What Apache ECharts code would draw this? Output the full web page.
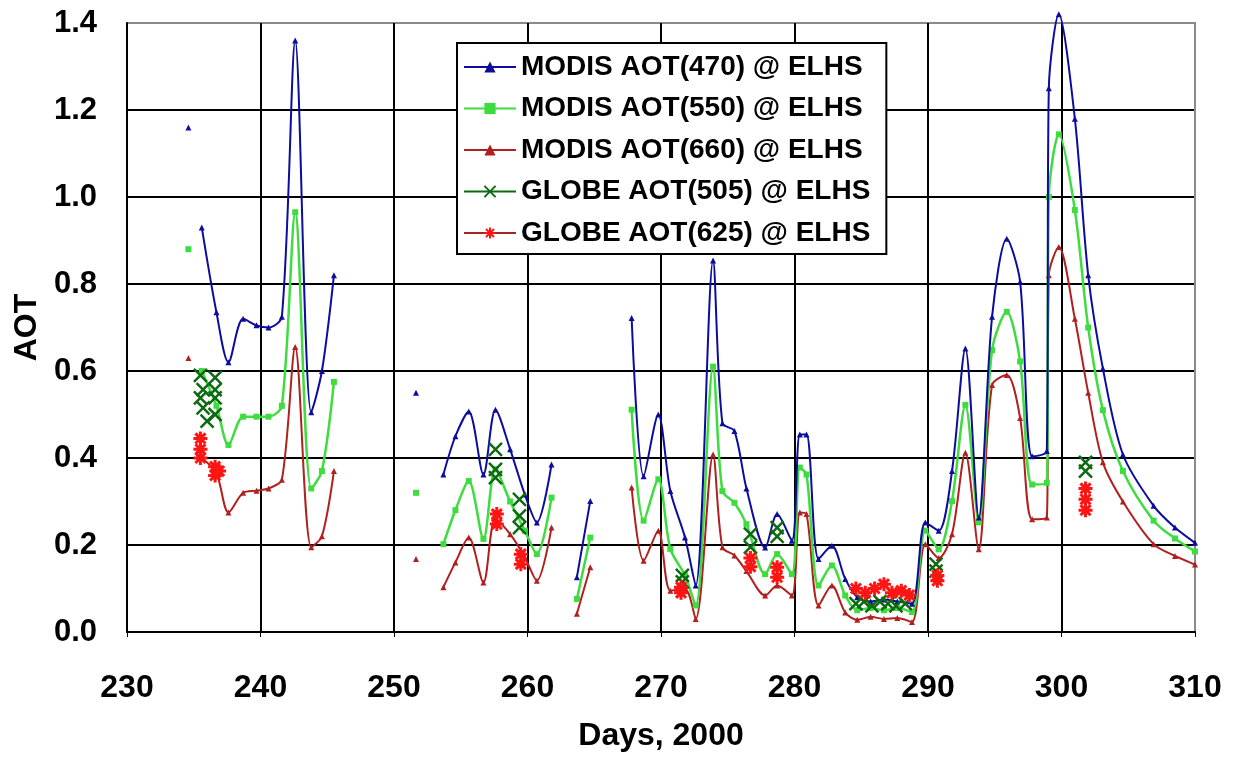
<!DOCTYPE html>
<html>
<head>
<meta charset="utf-8">
<script src="https://cdn.jsdelivr.net/npm/echarts@6/dist/echarts.min.js"></script>
<style>
html,body{margin:0;padding:0;background:#fff;}
#chart{width:1236px;height:757px;}
</style>
</head>
<body>
<div id="chart"></div>
<script>
// ---- Data ----
const xTicks = [230, 240, 250, 260, 270, 280, 290, 300, 310];
const yTicks = [0.0, 0.2, 0.4, 0.6, 0.8, 1.0, 1.2, 1.4];

const seriesNames = [
  'MODIS AOT(470) @ ELHS',
  'MODIS AOT(550) @ ELHS',
  'MODIS AOT(660) @ ELHS',
  'GLOBE AOT(505) @ ELHS',
  'GLOBE AOT(625) @ ELHS'
];

// MODIS overpass days (null values break the line)
const modisDays = [
  234.6, 235.0,
  235.6, 236.7, 237.6, 238.7, 239.7, 240.6, 241.6, 242.6, 243.8, 244.6, 245.5, 248.0,
  251.65, 252.5,
  253.7, 254.6, 255.6, 256.7, 257.6, 258.7, 259.8, 260.7, 261.8, 262.7,
  263.7, 264.7, 266.0,
  267.8, 268.7, 269.8, 270.7, 271.8, 272.6, 273.9, 274.6, 275.5, 276.4,
  277.8, 278.7, 279.8, 280.4, 280.9, 281.8, 282.8, 283.8, 284.7, 285.7,
  286.7, 287.7, 288.8, 289.8, 290.8, 291.8, 292.8, 293.8, 294.8, 295.9,
  296.9, 297.8, 298.9, 299.05, 299.8, 301.0, 302.0, 303.1, 304.6, 306.9,
  308.5, 310.0
];
const aot470 = [
  1.16, null,
  0.93, 0.735, 0.62, 0.72, 0.705, 0.70, 0.725, 1.36, 0.505, 0.60, 0.82, null,
  0.55, null,
  0.362, 0.45, 0.507, 0.362, 0.511, 0.42, 0.316, 0.252, 0.385, null,
  0.126, 0.301, null,
  0.722, 0.358, 0.50, 0.324, 0.217, 0.107, 0.854, 0.48, 0.462, 0.33,
  0.194, 0.271, 0.21, 0.454, 0.454, 0.168, 0.198, 0.122, 0.08, 0.07,
  0.075, 0.07, 0.065, 0.252, 0.233, 0.37, 0.652, 0.263, 0.725, 0.904,
  0.805, 0.404, 0.416, 1.25, 1.42, 1.18, 0.82, 0.606, 0.408, 0.29,
  0.24, 0.205
];
const aot550 = [
  0.88, null,
  0.60, 0.52, 0.43, 0.495, 0.495, 0.495, 0.52, 0.965, 0.33, 0.37, 0.575, null,
  0.32, null,
  0.202, 0.28, 0.347, 0.214, 0.374, 0.30, 0.233, 0.179, 0.309, null,
  0.076, 0.217, null,
  0.511, 0.256, 0.351, 0.191, 0.13, 0.061, 0.61, 0.324, 0.297, 0.248,
  0.133, 0.179, 0.133, 0.378, 0.362, 0.107, 0.153, 0.084, 0.05, 0.055,
  0.05, 0.055, 0.046, 0.233, 0.19, 0.301, 0.522, 0.252, 0.648, 0.736,
  0.622, 0.339, 0.343, 1.0, 1.144, 0.97, 0.70, 0.51, 0.37, 0.256,
  0.215, 0.185
];
const aot660 = [
  0.63, null,
  0.40, 0.365, 0.275, 0.32, 0.325, 0.33, 0.35, 0.655, 0.195, 0.22, 0.37, null,
  0.168, null,
  0.103, 0.16, 0.217, 0.114, 0.26, 0.225, 0.172, 0.118, 0.24, null,
  0.042, 0.149, null,
  0.332, 0.164, 0.233, 0.095, 0.099, 0.03, 0.408, 0.195, 0.176, 0.14,
  0.084, 0.107, 0.084, 0.275, 0.271, 0.061, 0.107, 0.045, 0.028, 0.035,
  0.03, 0.032, 0.023, 0.202, 0.17, 0.225, 0.412, 0.19, 0.568, 0.591,
  0.492, 0.259, 0.263, 0.82, 0.885, 0.72, 0.55, 0.39, 0.30, 0.202,
  0.175, 0.155
];

// GLOBE hand-held sun photometer measurements
const globe505Days = [
  235.5, 235.5, 235.7, 235.7, 236.0, 236.6, 236.6, 236.6, 236.6,
  257.6, 257.6, 257.6, 259.4, 259.4, 259.4,
  271.6, 271.6, 276.7, 276.7, 278.7, 278.7,
  284.6, 285.2, 285.8, 286.4, 287.0, 287.6, 288.3,
  290.6, 290.6, 301.8, 301.8
];
const globe505Vals = [
  0.59, 0.538, 0.557, 0.515, 0.485, 0.585, 0.557, 0.538, 0.50,
  0.42, 0.374, 0.355, 0.305, 0.267, 0.24,
  0.13, 0.115, 0.225, 0.195, 0.24, 0.22,
  0.065, 0.07, 0.06, 0.07, 0.065, 0.06, 0.065,
  0.156, 0.14, 0.39, 0.37
];
const globe625Days = [
  235.5, 235.5, 235.5, 236.6, 236.6, 236.9,
  257.7, 257.7, 259.5, 259.5,
  271.5, 271.5, 276.7, 276.7, 278.7, 278.7,
  284.6, 285.3, 286.0, 286.7, 287.3, 288.0, 288.6,
  290.7, 290.7, 301.8, 301.8, 301.8
];
const globe625Vals = [
  0.445, 0.42, 0.40, 0.38, 0.36, 0.37,
  0.271, 0.248, 0.179, 0.156,
  0.103, 0.09, 0.17, 0.15, 0.149, 0.126,
  0.10, 0.09, 0.10, 0.11, 0.09, 0.095, 0.085,
  0.118, 0.13, 0.33, 0.305, 0.28
];

// ---- Build chart ----
function pairs(days, vals) {
  return days.map((d, i) => [d, vals[i] === null ? '-' : vals[i]]);
}

const FONT = '"Liberation Sans", Arial, sans-serif';
const C470 = '#0c0c9e', C550 = '#3fdc3f', C660 = '#b0201e', C505 = '#0d6a12', C625 = '#ff1414', C625L = '#a52424';
const xPath = 'path://M0,0L10,10M10,0L0,10';
const starPath = 'path://M5,0L5,10M0,5L10,5M1.4,1.4L8.6,8.6M8.6,1.4L1.4,8.6';

const chart = echarts.init(document.getElementById('chart'), null, {renderer: 'canvas'});

const option = {
  animation: false,
  backgroundColor: '#ffffff',
  textStyle: {fontFamily: FONT},
  grid: {left: 127, right: 41, top: 23, bottom: 122, show: true, borderColor: '#8a8a8a', borderWidth: 2},
  xAxis: {
    type: 'value', min: xTicks[0], max: xTicks[xTicks.length - 1], interval: 10,
    name: 'Days, 2000', nameLocation: 'middle', nameGap: 88,
    nameTextStyle: {fontFamily: FONT, fontWeight: 'bold', fontSize: 32, color: '#000'},
    axisLine: {show: true, onZero: false, lineStyle: {color: '#000', width: 2}},
    axisTick: {show: true, length: 5, lineStyle: {color: '#000', width: 1}},
    axisLabel: {margin: 40, fontFamily: FONT, fontWeight: 'bold', fontSize: 32, color: '#000',
      formatter: v => xTicks.includes(v) ? String(v) : ''},
    splitLine: {show: true, lineStyle: {color: ['#000','#000','#000','#000','#000','#000','#000','#000','#8a8a8a'], width: 2}}
  },
  yAxis: {
    type: 'value', min: yTicks[0], max: yTicks[yTicks.length - 1], interval: 0.2,
    name: 'AOT', nameLocation: 'middle', nameGap: 78, nameRotate: 90,
    nameTextStyle: {fontFamily: FONT, fontWeight: 'bold', fontSize: 32, color: '#000'},
    axisLine: {show: true, onZero: false, lineStyle: {color: '#000', width: 2}},
    axisTick: {show: false},
    axisLabel: {margin: 30, fontFamily: FONT, fontWeight: 'bold', fontSize: 31, color: '#000',
      formatter: v => v.toFixed(1)},
    splitLine: {show: true, lineStyle: {color: ['#000','#000','#000','#000','#000','#000','#000','#8a8a8a'], width: 2}}
  },
  legend: {
    orient: 'vertical', left: 457, top: 43,
    backgroundColor: '#fff', borderColor: '#000', borderWidth: 2,
    padding: [9, 16, 6, 6],
    itemWidth: 52, itemHeight: 14, itemGap: 11.5,
    textStyle: {fontFamily: FONT, fontWeight: 'bold', fontSize: 28, color: '#000', lineHeight: 30},
    data: [
      {name: seriesNames[0]},
      {name: seriesNames[1]},
      {name: seriesNames[2]},
      {name: seriesNames[3], lineStyle: {color: C505, width: 2, opacity: 1, type: 'solid'}},
      {name: seriesNames[4], lineStyle: {color: C625L, width: 2, opacity: 1, type: 'solid'}}
    ]
  },
  series: [
    {
      name: seriesNames[0], type: 'line', data: pairs(modisDays, aot470),
      smooth: 0.3, connectNulls: false, showSymbol: true, showAllSymbol: true, clip: false,
      symbol: 'triangle', symbolSize: 6, z: 5,
      lineStyle: {color: C470, width: 2}, itemStyle: {color: C470}
    },
    {
      name: seriesNames[1], type: 'line', data: pairs(modisDays, aot550),
      smooth: 0.3, connectNulls: false, showSymbol: true, showAllSymbol: true, clip: false,
      symbol: 'rect', symbolSize: 6, z: 4,
      lineStyle: {color: C550, width: 2.5}, itemStyle: {color: C550}
    },
    {
      name: seriesNames[2], type: 'line', data: pairs(modisDays, aot660),
      smooth: 0.3, connectNulls: false, showSymbol: true, showAllSymbol: true, clip: false,
      symbol: 'triangle', symbolSize: 6, z: 3,
      lineStyle: {color: C660, width: 2}, itemStyle: {color: C660}
    },
    {
      name: seriesNames[3], type: 'line', data: pairs(globe505Days, globe505Vals),
      showSymbol: true, showAllSymbol: true, symbol: xPath, symbolSize: 13, z: 6,
      lineStyle: {width: 0, opacity: 0, color: C505},
      itemStyle: {color: 'rgba(0,0,0,0)', borderColor: C505, borderWidth: 2.5}
    },
    {
      name: seriesNames[4], type: 'line', data: pairs(globe625Days, globe625Vals),
      showSymbol: true, showAllSymbol: true, symbol: starPath, symbolSize: 14, z: 7,
      lineStyle: {width: 0, opacity: 0, color: C625L},
      itemStyle: {color: 'rgba(0,0,0,0)', borderColor: C625, borderWidth: 3}
    }
  ]
};
chart.setOption(option);
</script>
</body>
</html>
